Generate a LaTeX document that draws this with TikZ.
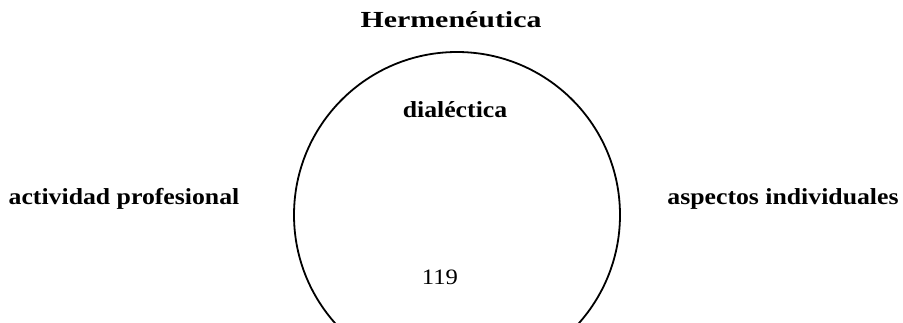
\documentclass[tikz,border=0pt]{standalone}
\usepackage{fontspec}
\setmainfont{Liberation Serif}[FakeStretch=1.12]
\newfontfamily\widefont{Liberation Serif}[FakeStretch=1.30]
\usepackage{tikz}
\usetikzlibrary{positioning}
\tikzset{
  %% ---- labels ----
  term/.style   = {anchor=base, inner sep=0pt,
                   font=\fontsize{23}{27}\selectfont\bfseries},
  numlbl/.style = {anchor=base, inner sep=0pt,
                   font=\fontsize{22}{26}\selectfont},
  %% ---- circle ----
  ring/.style   = {circle, draw, line width=1.8pt, inner sep=0pt,
                   minimum size=326pt},
}
\begin{document}
\begin{tikzpicture}[x=1pt, y=-1pt]
\useasboundingbox (0,0) rectangle (903,323);
\clip (0,0) rectangle (903,323);
\node[ring]  (ciclo) at (457,215) {};
\node[term, font=\fontsize{23}{27}\selectfont\widefont\bfseries] (herm) at (451,28) {Hermenéutica};
\node[term]   (dial) at (455,118) {dialéctica};
\node[term]   (prof) at (124,205) {actividad profesional};
\node[term]   (indi) at (783,205) {aspectos individuales};
\node[numlbl] (pag)  at (440,285) {119};
\end{tikzpicture}
\end{document}
